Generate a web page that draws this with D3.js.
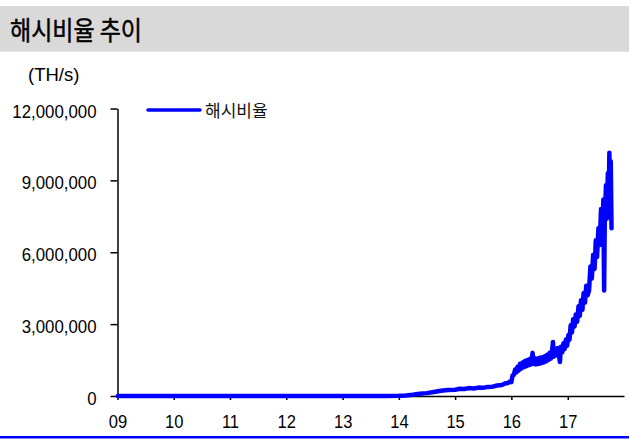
<!DOCTYPE html>
<html>
<head>
<meta charset="utf-8">
<script src="https://cdn.jsdelivr.net/npm/d3@7"></script>
<style>
  html, body { margin: 0; padding: 0; background: #fff; }
  svg { display: block; }
</style>
</head>
<body>
<svg id="chart" width="629" height="439"></svg>
<script>
// Bitcoin network hash rate (TH/s)
const title = "해시비율 추이";
const unitLabel = "(TH/s)";
const seriesName = "해시비율";

const dates = [
  "2009-01-03","2010-01-01","2011-01-01","2012-01-01","2013-01-01","2013-07-01","2013-10-01",
  "2014-01-01","2014-02-15","2014-04-01","2014-05-15","2014-07-01","2014-08-15","2014-10-01","2014-11-15",
  "2015-01-01","2015-02-01","2015-03-01","2015-04-01","2015-05-01","2015-06-01","2015-07-01","2015-08-01",
  "2015-09-01","2015-10-01","2015-11-01","2015-11-20","2015-12-10","2015-12-22",
  "2016-01-01","2016-01-09","2016-01-17","2016-01-25","2016-02-02","2016-02-10","2016-02-18","2016-02-26",
  "2016-03-05","2016-03-13","2016-03-21","2016-03-29","2016-04-06","2016-04-14","2016-04-22","2016-04-30",
  "2016-05-08","2016-05-18","2016-05-24","2016-06-01","2016-06-09","2016-06-17","2016-06-25","2016-07-03",
  "2016-07-11","2016-07-19","2016-07-27","2016-08-04","2016-08-12","2016-08-20","2016-08-28","2016-09-05",
  "2016-09-13","2016-09-21","2016-09-27","2016-10-03","2016-10-11","2016-10-19","2016-10-27","2016-11-04",
  "2016-11-11","2016-11-18","2016-11-26","2016-12-04","2016-12-12","2016-12-20","2016-12-28",
  "2017-01-05","2017-01-12","2017-01-20","2017-01-28","2017-02-05","2017-02-14","2017-02-22","2017-03-03",
  "2017-03-12","2017-03-20","2017-03-28","2017-04-06","2017-04-14","2017-04-23","2017-05-01","2017-05-10",
  "2017-05-19","2017-05-28","2017-06-06","2017-06-15","2017-06-24","2017-07-02","2017-07-10","2017-07-19",
  "2017-07-27","2017-08-05","2017-08-14","2017-08-20","2017-08-25","2017-08-29","2017-09-06","2017-09-12",
  "2017-09-18","2017-09-23","2017-09-28","2017-10-03","2017-10-07","2017-10-12"
];

const hashRate = [
  0,0,0,0,0,0,2000,
  10000,25000,50000,90000,120000,170000,220000,250000,
  260000,300000,290000,330000,310000,350000,340000,380000,
  390000,440000,460000,520000,540000,600000,
  580000,860000,880000,1100000,980000,1220000,1060000,1340000,
  1140000,1400000,1200000,1460000,1240000,1500000,1280000,1540000,
  1320000,1800000,1340000,1580000,1320000,1560000,1340000,1600000,
  1360000,1620000,1400000,1660000,1440000,1720000,1500000,1800000,
  1560000,1860000,2250000,1640000,1940000,1700000,2000000,1740000,
  1420000,2060000,1820000,2200000,1960000,2360000,2100000,
  2550000,2350000,2950000,2650000,3200000,2900000,3400000,3100000,
  3750000,3350000,4000000,3600000,4300000,3900000,4600000,4200000,
  4400000,5400000,4900000,5900000,5300000,6500000,5800000,7000000,
  6300000,7800000,6800000,8200000,4400000,7200000,8800000,7400000,
  9300000,7800000,10150000,8300000,9800000,7000000
];

const yTicks = [0, 3000000, 6000000, 9000000, 12000000];
const xTickYears = [2009, 2010, 2011, 2012, 2013, 2014, 2015, 2016, 2017];

const parse = d3.timeParse("%Y-%m-%d");
const data = dates.map((d, i) => ({ date: parse(d), value: hashRate[i] }));

const svg = d3.select("#chart");
const W = 629, H = 439;
const plot = { left: 117.5, right: 624, top: 108.5, bottom: 396 };

// title band
svg.append("rect").attr("x", 0).attr("y", 6).attr("width", W).attr("height", 45.7).attr("fill", "#d9d9d9");
svg.append("text")
  .attr("x", 10).attr("y", 40)
  .attr("font-family", "'Noto Sans CJK KR', sans-serif")
  .attr("font-size", 26).attr("font-weight", 400)
  .attr("fill", "#000")
  .attr("stroke", "#000").attr("stroke-width", 0.5)
  .attr("textLength", 132).attr("lengthAdjust", "spacingAndGlyphs")
  .text(title);

// bottom rule
svg.append("rect").attr("x", 0).attr("y", 436).attr("width", W).attr("height", 2.5).attr("fill", "#0000ff");

// unit
svg.append("text")
  .attr("x", 28).attr("y", 81)
  .attr("font-family", "'Liberation Sans', Arial, sans-serif")
  .attr("font-size", 18.5).attr("fill", "#000")
  .text(unitLabel);

const x = d3.scaleTime()
  .domain([new Date(2009, 0, 1), new Date(2018, 0, 1)])
  .range([plot.left, plot.right]);
const y = d3.scaleLinear()
  .domain([0, 12000000])
  .range([plot.bottom, plot.top]);

function condense(sel, k) {
  sel.each(function () {
    const w = this.getComputedTextLength();
    d3.select(this).attr("textLength", w * k).attr("lengthAdjust", "spacingAndGlyphs");
  });
}

const xAxis = d3.axisBottom(x)
  .tickValues(xTickYears.map(yr => new Date(yr, 0, 1)))
  .tickFormat(d3.timeFormat("%y"))
  .tickSize(4).tickSizeOuter(0).tickPadding(14.3);

const gx = svg.append("g").attr("transform", `translate(0,${plot.bottom})`).call(xAxis);
gx.selectAll("path, line").attr("stroke", "#000").attr("stroke-width", 1.5);
gx.selectAll("text")
  .attr("font-family", "'Liberation Sans', Arial, sans-serif")
  .attr("font-size", 19).attr("fill", "#000")
  .call(condense, 0.87);

const yAxis = d3.axisLeft(y)
  .tickValues(yTicks)
  .tickFormat(d3.format(","))
  .tickSize(7).tickSizeOuter(0).tickPadding(14);

const gy = svg.append("g").attr("transform", `translate(${plot.left},0)`).call(yAxis);
gy.selectAll("path, line").attr("stroke", "#000").attr("stroke-width", 1.5);
gy.selectAll("text")
  .attr("font-family", "'Liberation Sans', Arial, sans-serif")
  .attr("font-size", 19).attr("fill", "#000")
  .attr("dy", "0.45em")
  .call(condense, 0.885);
svg.selectAll(".domain").attr("stroke", "#000").attr("stroke-width", 1.5);

// series
const line = d3.line().x(d => x(d.date)).y(d => y(d.value));
svg.append("path")
  .datum(data)
  .attr("d", line)
  .attr("fill", "none")
  .attr("stroke", "#0000ff")
  .attr("stroke-width", 4.5)
  .attr("stroke-linejoin", "round")
  .attr("stroke-linecap", "round");

// legend
const legendY = 110;
svg.append("line")
  .attr("x1", 148).attr("x2", 200).attr("y1", legendY).attr("y2", legendY)
  .attr("stroke", "#0000ff").attr("stroke-width", 3.5).attr("stroke-linecap", "round");
svg.append("text")
  .attr("x", 205).attr("y", 116.5)
  .attr("font-family", "'Noto Sans CJK KR', sans-serif")
  .attr("font-size", 17).attr("fill", "#111")
  .text(seriesName);
</script>
</body>
</html>
